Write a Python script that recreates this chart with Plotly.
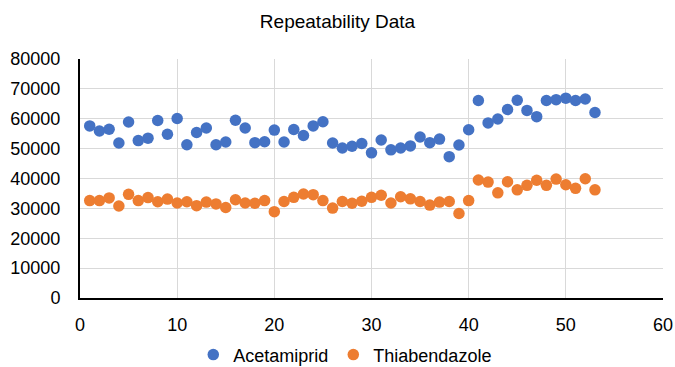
import plotly.graph_objects as go

# Run number for each repeat injection
runs = list(range(1, 54))

# Peak areas per run
acetamiprid = [
    57600, 55900, 56500, 51900, 58900, 52700, 53500, 59400, 54800, 60100,
    51300, 55400, 56900, 51300, 52200, 59500, 56900, 52000, 52300, 56200,
    52200, 56400, 54400, 57600, 59000, 51900, 50200, 50800, 51700, 48600,
    52900, 49600, 50200, 50900, 53900, 52000, 53200, 47300, 51200, 56300,
    66100, 58600, 59900, 63100, 66200, 62800, 60700, 66100, 66400, 66900,
    66100, 66600, 62100,
]
thiabendazole = [
    32600, 32600, 33500, 30800, 34700, 32600, 33600, 32200, 33100, 31800,
    32200, 30900, 32100, 31500, 30300, 32900, 31800, 31700, 32600, 28900,
    32300, 33700, 34800, 34600, 32600, 30100, 32300, 31700, 32400, 33700,
    34400, 31800, 33900, 33200, 32300, 31100, 32100, 32300, 28300, 32600,
    39500, 38800, 35200, 38900, 36200, 37700, 39400, 37700, 39800, 37900,
    36700, 39900, 36200,
]

x_ticks = [0, 10, 20, 30, 40, 50, 60]
y_ticks = [0, 10000, 20000, 30000, 40000, 50000, 60000, 70000, 80000]
y_tick_text = [str(v) for v in y_ticks]
x_tick_text = [str(v) for v in x_ticks]

FONT = "Liberation Sans, Arial, sans-serif"
BLUE = "#4472C4"
ORANGE = "#ED7D31"
GRID = "#d9d9d9"

fig = go.Figure()
fig.add_trace(go.Scatter(
    x=runs, y=acetamiprid, mode="markers", name="Acetamiprid",
    marker=dict(color=BLUE, size=11.5),
))
fig.add_trace(go.Scatter(
    x=runs, y=thiabendazole, mode="markers", name="Thiabendazole",
    marker=dict(color=ORANGE, size=11.5),
))

fig.update_layout(
    width=675, height=367,
    margin=dict(l=80, r=12, t=59, b=69, autoexpand=False),
    paper_bgcolor="white", plot_bgcolor="white",
    font=dict(family=FONT, size=18, color="#000000"),
    title=dict(text="Repeatability Data", x=0.5, xanchor="center",
               y=1 - 21 / 367, yanchor="middle",
               font=dict(family=FONT, size=19, color="#000000")),
    showlegend=True,
    legend=dict(orientation="h", x=0.455, xanchor="center",
                y=-0.238, yanchor="middle",
                font=dict(family=FONT, size=18, color="#000000"),
                tracegroupgap=0, bgcolor="rgba(0,0,0,0)",
                borderwidth=0),
)

fig.update_xaxes(
    range=[0, 60], tickvals=x_ticks, ticktext=x_tick_text, showgrid=True,
    gridcolor=GRID, gridwidth=1, zeroline=False, showline=True,
    linecolor="#000000", linewidth=2, ticks="", ticklabelstandoff=9,
    automargin=False,
    tickfont=dict(family=FONT, size=18, color="#000000"),
)
fig.update_yaxes(
    range=[0, 80000], tickvals=y_ticks, ticktext=y_tick_text, showgrid=True,
    gridcolor=GRID, gridwidth=1, zeroline=False, showline=True,
    linecolor="#000000", linewidth=2, ticks="", ticklabelstandoff=14,
    automargin=False,
    tickfont=dict(family=FONT, size=18, color="#000000"),
)

fig.write_html("out.html")
